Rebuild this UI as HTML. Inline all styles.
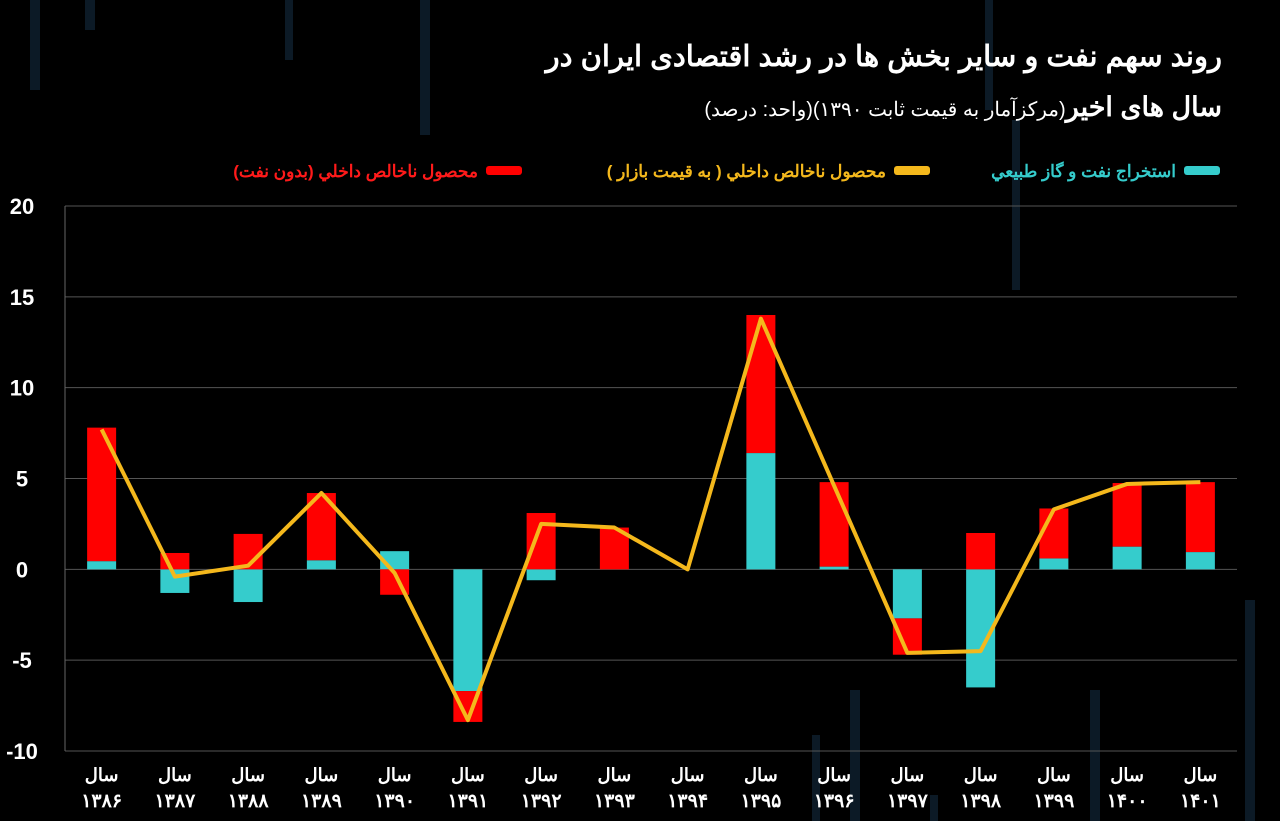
<!DOCTYPE html>
<html><head><meta charset="utf-8"><style>
html,body{margin:0;padding:0;background:#000;width:1280px;height:821px;overflow:hidden}
svg{display:block}
text{font-family:"Liberation Sans","Noto Sans CJK SC",sans-serif}
</style></head><body>
<svg id="chart" width="1280" height="821">
<g fill="#0c1a26">
<rect x="30" y="0" width="10" height="90"/><rect x="85" y="0" width="10" height="30"/><rect x="285" y="0" width="8" height="60"/>
<rect x="420" y="0" width="10" height="135"/><rect x="985" y="0" width="8" height="110"/><rect x="1012" y="120" width="8" height="170"/>
<rect x="850" y="690" width="10" height="131"/><rect x="1090" y="690" width="10" height="131"/><rect x="1245" y="600" width="10" height="221"/>
<rect x="812" y="735" width="8" height="86"/><rect x="930" y="795" width="8" height="26"/>
</g>
<text x="1222" y="66" text-anchor="start" direction="rtl" fill="#fff" font-size="29" font-weight="bold">روند سهم نفت و سایر بخش ها در رشد اقتصادی ایران در</text>
<text x="1222" y="116" text-anchor="start" direction="rtl" fill="#fff"><tspan font-size="27" font-weight="bold">سال های اخیر</tspan><tspan font-size="20">(مرکزآمار به قیمت ثابت ۱۳۹۰)(واحد: درصد)</tspan></text>
<g font-size="17" font-weight="bold">
<rect x="1184" y="166" width="36" height="9" rx="3" fill="#35cccc"/>
<text x="1176" y="177" text-anchor="start" direction="rtl" fill="#35cccc">استخراج نفت و گاز طبیعي</text>
<rect x="894" y="166" width="36" height="9" rx="3" fill="#f4b81c"/>
<text x="886" y="177" text-anchor="start" direction="rtl" fill="#f4b81c">محصول ناخالص داخلي ( به قيمت بازار )</text>
<rect x="486" y="166" width="36" height="9" rx="3" fill="#ff0000"/>
<text x="478" y="177" text-anchor="start" direction="rtl" fill="#ff1a1a">محصول ناخالص داخلي (بدون نفت)</text>
</g>
<g id="grid"></g><g id="bars"></g><g id="line"></g><g id="labels"></g>
</svg>
<script>
const categories=["۱۳۸۶","۱۳۸۷","۱۳۸۸","۱۳۸۹","۱۳۹۰","۱۳۹۱","۱۳۹۲","۱۳۹۳","۱۳۹۴","۱۳۹۵","۱۳۹۶","۱۳۹۷","۱۳۹۸","۱۳۹۹","۱۴۰۰","۱۴۰۱"];
const oilValues=[0.45,-1.3,-1.8,0.5,1.0,-6.7,-0.6,0,0,6.4,0.15,-2.7,-6.5,0.6,1.25,0.95];
const nonOilValues=[7.35,0.9,1.95,3.7,-1.4,-1.7,3.1,2.3,0,7.6,4.65,-2.0,2.0,2.75,3.5,3.85];
const gdpValues=[7.7,-0.4,0.2,4.2,-0.2,-8.3,2.5,2.3,0,13.8,4.6,-4.6,-4.5,3.3,4.7,4.8];
const yTicks=[20,15,10,5,0,-5,-10];
const yTickLabels=["20","15","10","5","0","-5","-10"];
const NS="http://www.w3.org/2000/svg";
const X0=65,X1=1237,Y0=206,Y1=751,VMAX=20,VMIN=-10;
const band=(X1-X0)/categories.length;
const y=v=>Y0+(VMAX-v)/(VMAX-VMIN)*(Y1-Y0);
const xc=i=>X0+band*(i+0.5);
function mk(tag,attrs,parent){const e=document.createElementNS(NS,tag);for(const k in attrs)e.setAttribute(k,attrs[k]);parent.appendChild(e);return e;}
const grid=document.getElementById('grid'),bars=document.getElementById('bars'),line=document.getElementById('line'),labels=document.getElementById('labels');
yTicks.forEach((t,i)=>{
 const g=mk('line',{x1:X0,x2:X1,y1:y(t),y2:y(t),stroke:'#555','stroke-width':1},grid);
 
 
 const l=mk('text',{x:22,y:y(t)+8,'text-anchor':'middle',fill:'#fff','font-size':22,'font-weight':'bold'},labels);
 l.textContent=yTickLabels[i];
 
 
});
const ax=mk('line',{x1:X0,x2:X0,y1:Y0,y2:Y1,stroke:'#666'},grid);


const bw=29;
categories.forEach((c,i)=>{
 const o=oilValues[i],n=nonOilValues[i];
 const r1=mk('rect',{x:xc(i)-bw/2,y:Math.min(y(0),y(o)),width:bw,height:Math.abs(y(o)-y(0)),fill:'#35cccc'},bars);
 
 
 const base=(o*n>0)?o:0;
 const r2=mk('rect',{x:xc(i)-bw/2,y:Math.min(y(base),y(base+n)),width:bw,height:Math.abs(y(base+n)-y(base)),fill:'#ff0000'},bars);
 
 
 const t1=mk('text',{x:xc(i),y:781,'text-anchor':'middle',fill:'#fff','font-size':18,'font-weight':'bold'},labels);
 t1.textContent='سال';
 
 
 const t2=mk('text',{x:xc(i),y:807,'text-anchor':'middle',fill:'#fff','font-size':19,'font-weight':'bold'},labels);
 t2.textContent=c;
 
 
});
const p=mk('polyline',{points:gdpValues.map((v,i)=>xc(i)+','+y(v)).join(' '),fill:'none',stroke:'#f4b81c','stroke-width':4,'stroke-linejoin':'round'},line);


</script>
</body></html>
